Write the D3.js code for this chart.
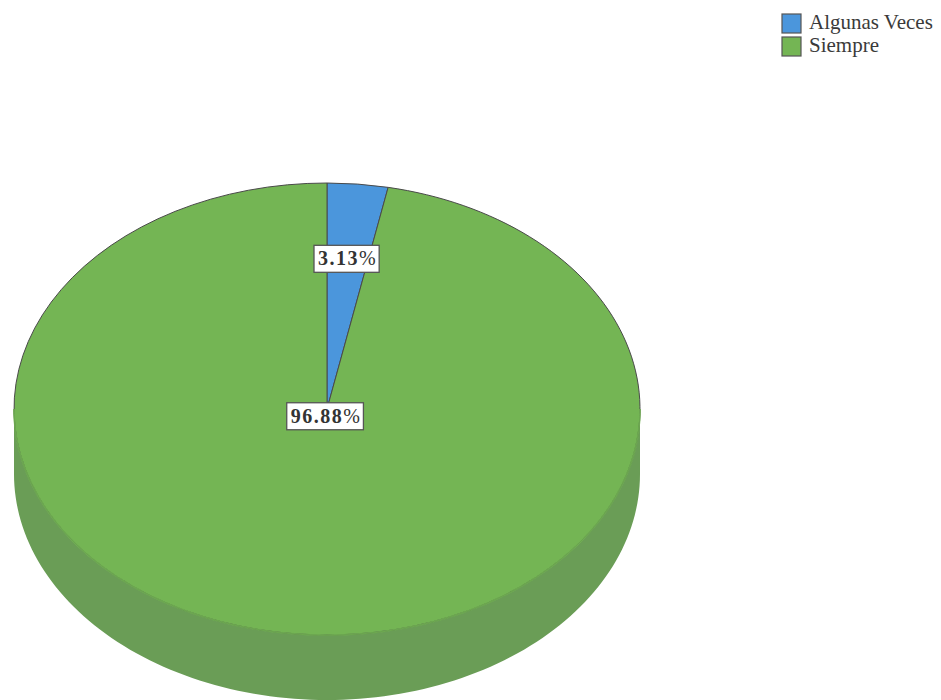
<!DOCTYPE html>
<html>
<head>
<meta charset="utf-8">
<script src="https://cdn.jsdelivr.net/npm/d3@7"></script>
<style>
  html, body { margin: 0; padding: 0; background: #ffffff; }
  svg { display: block; }
</style>
</head>
<body>
<svg id="chart" width="941" height="700"></svg>
<script>
// Response categories and their shares (%)
const categories = ["Algunas Veces", "Siempre"];
const percentages = [3.13, 96.88];
const colors = ["#4b96dc", "#74b554"];
const sideColors = ["#3f7bb5", "#6a9d56"];

const W = 941, H = 700;
const cx = 327, cy = 409;     // centre of the top face
const rx = 313, ry = 226;     // ellipse radii of the tilted disc
const depth = 65;             // thickness of the disc

const svg = d3.select("#chart");

const pie = d3.pie().sort(null).value(d => d)(percentages);

// point on the top ellipse at a pie angle (0 = top, clockwise)
const pt = (a, dy = 0) => [cx + rx * Math.sin(a), cy - ry * Math.cos(a) + dy];

// ---- side wall (only the front half, angles π/2..3π/2, is visible)
const line = d3.line();
pie.forEach((s, i) => {
  const a0 = Math.max(s.startAngle, Math.PI / 2);
  const a1 = Math.min(s.endAngle, Math.PI * 1.5);
  if (a1 <= a0) return;
  const steps = d3.range(0, 121).map(k => a0 + (a1 - a0) * k / 120);
  const top = steps.map(a => pt(a));
  const bottom = steps.slice().reverse().map(a => pt(a, depth));
  svg.append("path")
    .attr("d", line(top.concat(bottom)) + "Z")
    .attr("fill", sideColors[i]);
});

// ---- top face, drawn as a circular pie squashed vertically
const arc = d3.arc().innerRadius(0).outerRadius(rx);
const face = svg.append("g")
  .attr("transform", `translate(${cx},${cy}) scale(1,${ry / rx})`);

face.selectAll("path.slice")
  .data(pie)
  .join("path")
  .attr("class", "slice")
  .attr("d", arc)
  .attr("fill", (d, i) => colors[i])
  .attr("stroke", "#4a4a4a")
  .attr("stroke-width", 1)
  .attr("vector-effect", "non-scaling-stroke");

// soften the outline along the front edge of the top face
const front = d3.range(0, 121).map(k => pt(Math.PI * 0.5 + Math.PI * k / 120));
svg.append("path")
  .attr("d", line(front))
  .attr("fill", "none")
  .attr("stroke", "#74b554")
  .attr("stroke-width", 1.6);
svg.append("path")
  .attr("d", line(front))
  .attr("fill", "none")
  .attr("stroke", "#5f8f4a")
  .attr("stroke-width", 0.8)
  .attr("stroke-opacity", 0.6);

// ---- value labels in boxes
const labelR = d => (d.endAngle - d.startAngle) < Math.PI ? 0.67 : 0.03;
pie.forEach((d, i) => {
  const mid = (d.startAngle + d.endAngle) / 2;
  const r = labelR(d);
  const x = cx + rx * r * Math.sin(mid);
  const y = cy - ry * r * Math.cos(mid);
  const g = svg.append("g");
  const t = g.append("text")
    .attr("x", x)
    .attr("y", y)
    .attr("text-anchor", "middle")
    .attr("dominant-baseline", "central")
    .attr("font-family", "'Liberation Serif', 'Times New Roman', serif")
    .attr("font-size", 20)
    .attr("letter-spacing", 1.5)
    .attr("fill", "#333");
  t.append("tspan").attr("font-weight", "bold").text(d3.format(".2f")(percentages[i]));
  t.append("tspan").attr("font-weight", "normal").text("%");
  const bb = t.node().getBBox();
  g.insert("rect", "text")
    .attr("x", bb.x - 4)
    .attr("y", bb.y - 2)
    .attr("width", bb.width + 6)
    .attr("height", bb.height + 5)
    .attr("fill", "#ffffff")
    .attr("stroke", "#555")
    .attr("stroke-width", 1.3);
});

// ---- legend
const legend = svg.append("g").attr("transform", "translate(782,14)");
categories.forEach((c, i) => {
  const row = legend.append("g").attr("transform", `translate(0,${i * 23})`);
  row.append("rect")
    .attr("width", 19).attr("height", 19)
    .attr("fill", colors[i])
    .attr("stroke", "#555").attr("stroke-width", 1.2);
  row.append("text")
    .attr("x", 27).attr("y", 15)
    .attr("font-family", "'Liberation Serif', 'Times New Roman', serif")
    .attr("font-size", 21)
    .attr("fill", "#3a3a3a")
    .text(c);
});
</script>
</body>
</html>
